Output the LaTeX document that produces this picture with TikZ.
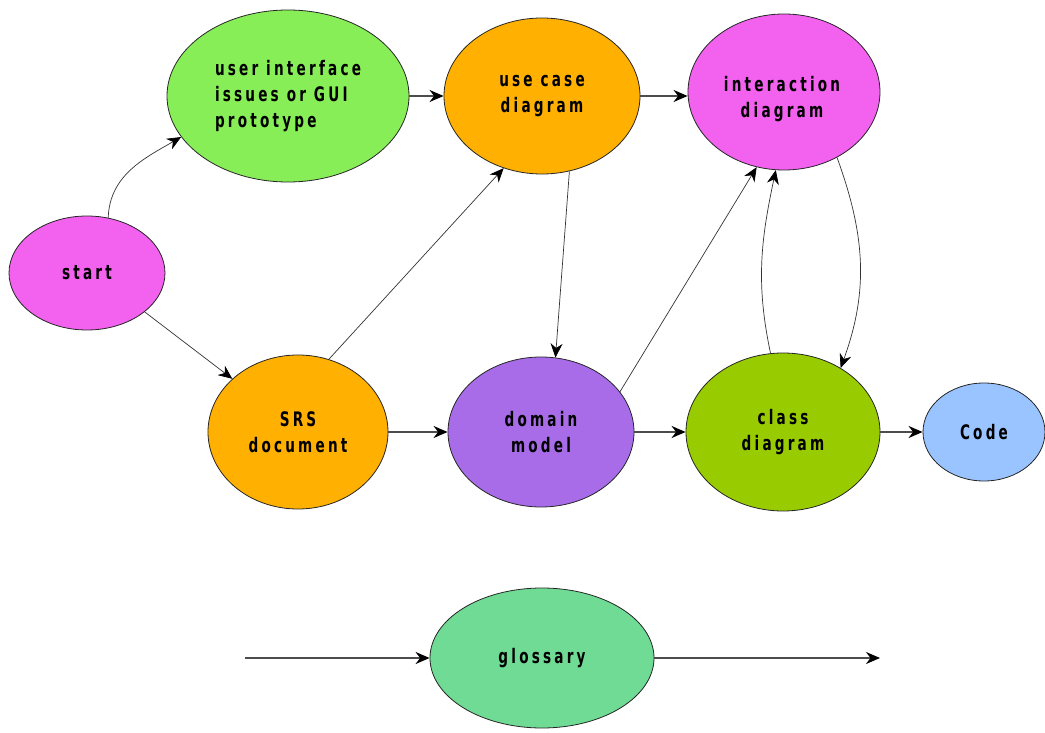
\documentclass[tikz,border=0pt]{standalone}
\usepackage{fontspec}
\newfontfamily\labfont[FakeStretch=0.68,LetterSpace=16]{DejaVu Sans}
\usetikzlibrary{shapes.geometric,arrows.meta}
\definecolor{cmag}{RGB}{242,98,238}
\definecolor{cuigreen}{RGB}{136,238,88}
\definecolor{corange}{RGB}{255,176,0}
\definecolor{cpurple}{RGB}{168,108,232}
\definecolor{cclass}{RGB}{153,204,0}
\definecolor{ccode}{RGB}{153,196,255}
\definecolor{cgloss}{RGB}{112,219,148}
\tikzset{
  labtext/.style={font=\labfont\bfseries\fontsize{20}{26}\selectfont, align=center, inner sep=0pt},
  bubble/.style={ellipse, draw=black!85, line width=0.8pt, inner sep=0pt, labtext},
  arr/.style={-{Stealth[length=14pt,width=12pt,inset=4.5pt,black]}},
  thinline/.style={arr, draw=black!80, line width=0.7pt},
  thickline/.style={arr, draw=black!70, line width=1.8pt},
}
\begin{document}
\begin{tikzpicture}[x=1pt,y=1pt]
\useasboundingbox (0,0) rectangle (1045,732);
% nodes
\node[bubble, fill=cmag, minimum width=156, minimum height=114] (start) at (87,459) {start};
\node[bubble, fill=cuigreen, minimum width=242, minimum height=172, align=left] (ui) at (288,636) {user interface\\issues or GUI\\prototype};
\node[bubble, fill=corange, minimum width=196, minimum height=156] (uc) at (542,636) {use case\\diagram};
\node[bubble, fill=cmag, minimum width=192, minimum height=156] (ia) at (784,640) {};
\node[labtext] (iat) at (782,633) {interaction\\diagram};
\node[bubble, fill=corange, minimum width=180, minimum height=154] (srs) at (298,300) {SRS\\document};
\node[bubble, fill=cpurple, minimum width=186, minimum height=150] (dm) at (541,300) {domain\\model};
\node[bubble, fill=cclass, minimum width=194, minimum height=158] (cd) at (783,300) {class\\diagram};
\node[bubble, fill=ccode, minimum width=122, minimum height=98] (code) at (984,300) {Code};
\node[bubble, fill=cgloss, minimum width=224, minimum height=140] (gl) at (542,74) {glossary};
\coordinate (gin) at (245,74);
\coordinate (gout) at (880,74);
% connectors
\draw[thinline] (start.69) to[out=88,in=210] (ui.201);
\draw[thinline] (start.-34) -- (srs.141);
\draw[thickline] (ui.east) -- (uc.west);
\draw[thinline] (srs.67) -- (uc.242);
\draw[thinline] (uc.-70) -- (dm.79);
\draw[thickline] (uc.east) -- (uc.east -| ia.west);
\draw[thinline] (dm.27) -- (ia.250);
\draw[thinline] (cd.99) to[out=102,in=258] (ia.264);
\draw[thinline] (ia.-51) to[out=-70,in=70] (cd.48);
\draw[thickline] (srs.east) -- (dm.west);
\draw[thickline] (dm.east) -- (cd.west);
\draw[thickline] (cd.east) -- (code.west);
\draw[thickline] (gin) -- (gl.west);
\draw[thickline] (gl.east) -- (gout);
\end{tikzpicture}
\end{document}
